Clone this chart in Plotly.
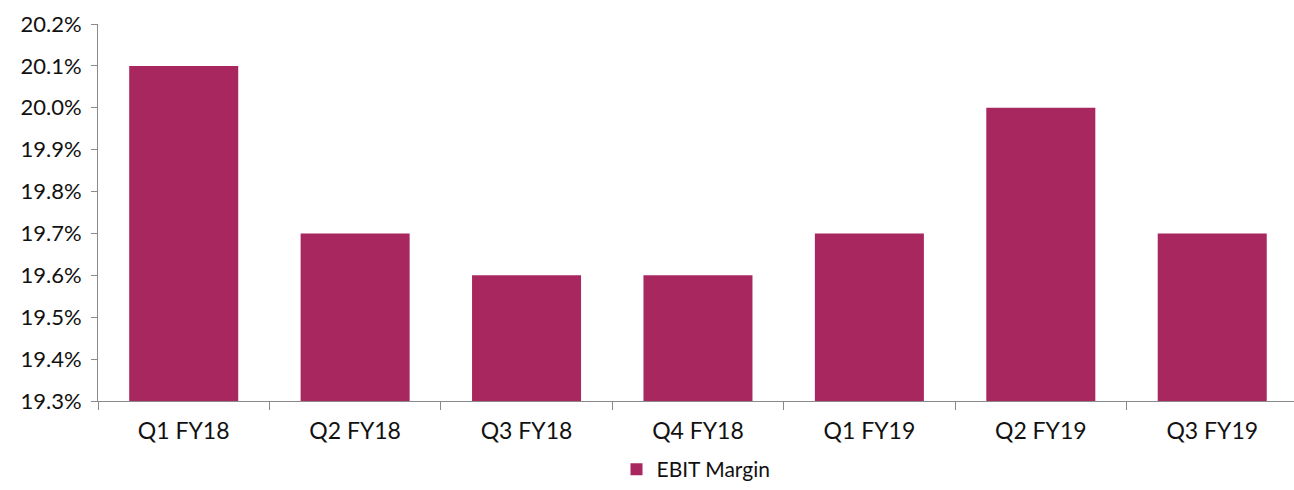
import plotly.graph_objects as go

quarters = ["Q1 FY18", "Q2 FY18", "Q3 FY18", "Q4 FY18", "Q1 FY19", "Q2 FY19", "Q3 FY19"]
ebit_margin = [20.1, 19.7, 19.6, 19.6, 19.7, 20.0, 19.7]
y_ticks = [19.3, 19.4, 19.5, 19.6, 19.7, 19.8, 19.9, 20.0, 20.1, 20.2]
y_tick_text = [f"{v:.1f}%" for v in y_ticks]

BAR_COLOR = "#A8275F"
AXIS_COLOR = "#8a8a8a"
FONT = "Lato"

fig = go.Figure(
    go.Bar(
        x=quarters,
        y=[v - y_ticks[0] for v in ebit_margin],
        base=y_ticks[0],
        name="EBIT Margin",
        marker=dict(color=BAR_COLOR, line=dict(width=0)),
        hoverinfo="skip",
    )
)

fig.update_layout(
    width=1294,
    height=490,
    margin=dict(l=98, r=0, t=24, b=89, autoexpand=False),
    paper_bgcolor="white",
    plot_bgcolor="white",
    bargap=0.364,
    font=dict(family=FONT, color="#111111"),
    showlegend=True,
    legend=dict(
        orientation="h",
        x=0.5,
        xanchor="center",
        yref="container",
        y=-0.014,
        yanchor="bottom",
        font=dict(size=21, family=FONT, color="#111111"),
        itemwidth=30,
        tracegroupgap=0,
    ),
    xaxis=dict(
        range=[-0.5, 6.477],
        showline=True,
        linecolor=AXIS_COLOR,
        linewidth=1,
        ticks="outside",
        tickson="boundaries",
        ticklen=8,
        tickcolor=AXIS_COLOR,
        showgrid=False,
        tickfont=dict(size=23, family=FONT, color="#111111"),
        ticklabelstandoff=9,
        fixedrange=True,
    ),
    yaxis=dict(
        range=[19.3, 20.2],
        tickvals=y_ticks,
        ticktext=y_tick_text,
        showline=True,
        linecolor=AXIS_COLOR,
        linewidth=1,
        ticks="outside",
        ticklen=6,
        tickcolor=AXIS_COLOR,
        showgrid=False,
        zeroline=False,
        tickfont=dict(size=22, family=FONT, color="#111111"),
        ticklabelstandoff=5,
        fixedrange=True,
    ),
)

fig.write_html("out.html", config={"displayModeBar": False})
